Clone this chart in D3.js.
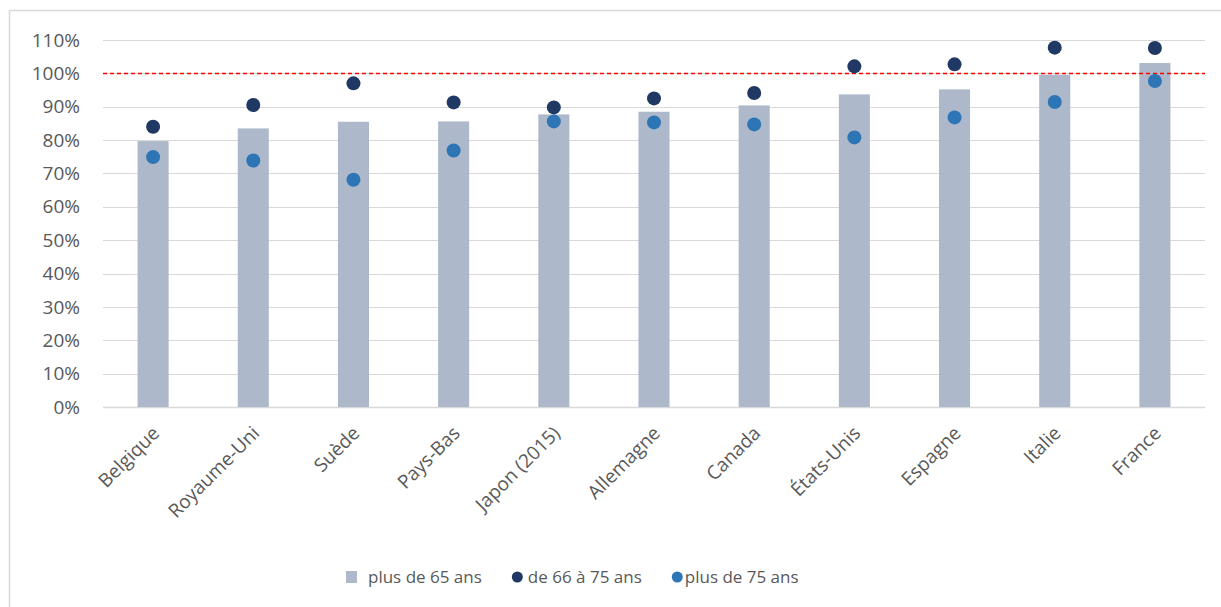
<!DOCTYPE html>
<html>
<head>
<meta charset="utf-8">
<script src="https://cdn.jsdelivr.net/npm/d3@7"></script>
<style>
  body { margin: 0; background: #fff; }
  svg { display: block; font-family: 'Open Sans', sans-serif; }
</style>
</head>
<body>
<div id="chart"></div>
<script>
const countries = ['Belgique', 'Royaume-Uni', 'Suède', 'Pays-Bas', 'Japon (2015)', 'Allemagne', 'Canada', 'États-Unis', 'Espagne', 'Italie', 'France'];
const plus65 = [79.7, 83.5, 85.5, 85.6, 87.7, 88.5, 90.4, 93.7, 95.2, 99.6, 103.1];
const de66a75 = [84.0, 90.5, 97.0, 91.3, 89.8, 92.5, 94.1, 102.1, 102.7, 107.7, 107.6];
const plus75 = [74.9, 73.9, 68.1, 76.9, 85.6, 85.3, 84.7, 80.8, 86.8, 91.4, 97.7];
const yTicks = [0, 10, 20, 30, 40, 50, 60, 70, 80, 90, 100, 110];
const seriesNames = ['plus de 65 ans', 'de 66 à 75 ans', 'plus de 75 ans'];
const reference = 100;

const width = 1221;
const height = 607;
const margin = { top: 40, right: 16, bottom: 200, left: 103 };

const colors = { bar: '#adb9ca', dark: '#203864', light: '#2e75b6', grid: '#d9d9d9', text: '#595959' };

const svg = d3.select('#chart').append('svg').attr('width', width).attr('height', height);

// chart frame (cut off on the right and bottom, as in the original)
svg.append('path')
  .attr('d', `M${width + 5},10.5 H9.5 V${height + 5}`)
  .attr('fill', 'none')
  .attr('stroke', colors.grid)
  .attr('stroke-width', 1.5);

const x = d3.scaleBand().domain(countries).range([margin.left, width - margin.right]).paddingInner(0.69).paddingOuter(0.345);
const y = d3.scaleLinear().domain([0, 110]).range([407, margin.top]);

// gridlines
svg.append('g')
  .selectAll('line')
  .data(yTicks)
  .enter()
  .append('line')
  .attr('x1', margin.left)
  .attr('x2', width - margin.right)
  .attr('y1', (d) => Math.round(y(d)) + 0.5)
  .attr('y2', (d) => Math.round(y(d)) + 0.5)
  .attr('stroke', colors.grid)
  .attr('stroke-width', (d) => (d === 0 ? 1.5 : 1.2));

// y tick labels
svg.append('g')
  .selectAll('text')
  .data(yTicks)
  .enter()
  .append('text')
  .attr('x', 80)
  .attr('y', (d) => y(d))
  .attr('dy', '0.35em')
  .attr('text-anchor', 'end')
  .attr('fill', colors.text)
  .style('font-size', '19px')
  .text((d) => d + '%');

// bars
svg.append('g')
  .selectAll('rect')
  .data(countries)
  .enter()
  .append('rect')
  .attr('x', (d) => x(d))
  .attr('width', x.bandwidth())
  .attr('y', (d, i) => y(plus65[i]))
  .attr('height', (d, i) => y(0) - y(plus65[i]))
  .attr('fill', colors.bar);

// reference line 100%
svg.append('line')
  .attr('x1', margin.left)
  .attr('x2', width - margin.right)
  .attr('y1', Math.round(y(reference)) + 0.5)
  .attr('y2', Math.round(y(reference)) + 0.5)
  .attr('stroke', '#ff0000')
  .attr('stroke-width', 1.5)
  .attr('stroke-dasharray', '4 3');

const cx = (d) => x(d) + x.bandwidth() / 2;

svg.append('g')
  .selectAll('circle')
  .data(countries)
  .enter()
  .append('circle')
  .attr('cx', cx)
  .attr('cy', (d, i) => y(de66a75[i]))
  .attr('r', 7)
  .attr('fill', colors.dark);

svg.append('g')
  .selectAll('circle')
  .data(countries)
  .enter()
  .append('circle')
  .attr('cx', cx)
  .attr('cy', (d, i) => y(plus75[i]))
  .attr('r', 7)
  .attr('fill', colors.light);

// category labels
svg.append('g')
  .selectAll('text')
  .data(countries)
  .enter()
  .append('text')
  .attr('transform', (d) => `translate(${cx(d) - 2},${y(0) + 18}) rotate(-45)`)
  .attr('text-anchor', 'end')
  .attr('dy', '0.7em')
  .attr('fill', colors.text)
  .style('font-size', '19px')
  .text((d) => d);

// legend
const legend = svg.append('g').attr('transform', 'translate(346,577)');
const symbols = [
  (g) => g.append('rect').attr('x', 0).attr('y', -6).attr('width', 11).attr('height', 12).attr('fill', colors.bar),
  (g) => g.append('circle').attr('cx', 5.5).attr('cy', 0).attr('r', 5.5).attr('fill', colors.dark),
  (g) => g.append('circle').attr('cx', 5.5).attr('cy', 0).attr('r', 5.5).attr('fill', colors.light),
];
const textGap = [22, 16, 13];
let offset = 0;
seriesNames.forEach((name, i) => {
  const item = legend.append('g').attr('transform', `translate(${offset},0)`);
  symbols[i](item);
  const t = item.append('text')
    .attr('x', textGap[i])
    .attr('dy', '0.35em')
    .attr('fill', colors.text)
    .style('font-size', '17px')
    .text(name);
  offset += textGap[i] + t.node().getComputedTextLength() + 30;
});
</script>
</body>
</html>
